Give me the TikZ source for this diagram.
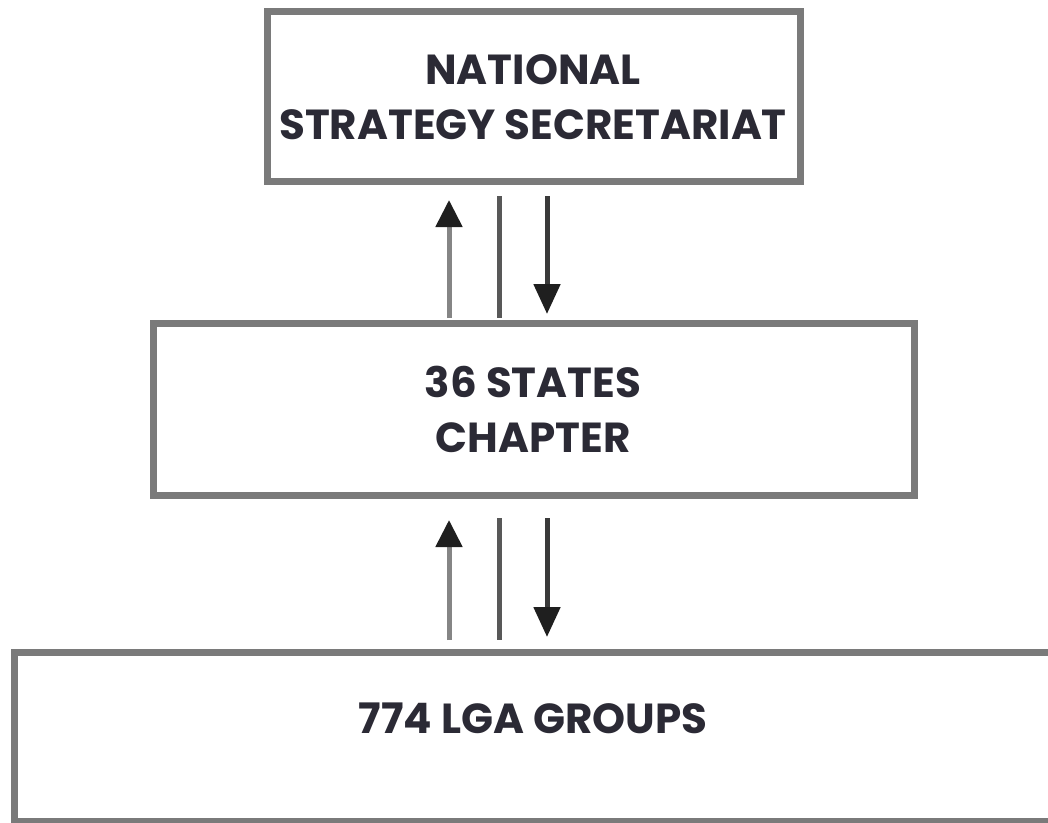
\documentclass[tikz,border=0pt]{standalone}
\usepackage{fontspec}
\setmainfont{Poppins}
\usetikzlibrary{arrows.meta}
\definecolor{boxline}{HTML}{7A7A7A}
\definecolor{inktext}{HTML}{2B2A35}
\definecolor{arrowgrey}{HTML}{858585}
\definecolor{arrowdark}{HTML}{3A3A3A}
\begin{document}
\begin{tikzpicture}[x=1pt,y=-1pt,
  levelbox/.style={draw=boxline,line width=7pt,fill=white},
  label/.style={font=\fontsize{42}{55}\selectfont\bfseries,text=inktext,align=center,inner sep=0pt},
  uparrow/.style={draw=arrowgrey,line width=5pt,-{Triangle[length=27pt,width=26pt,color=black!88]}},
  downarrow/.style={draw=arrowdark,line width=5pt,-{Triangle[length=30pt,width=26pt,color=black!88]}},
  plainline/.style={draw=arrowdark!85,line width=5pt}]
\useasboundingbox (0,0) rectangle (1048,822);
\clip (0,0) rectangle (1048,822);

% three levels of the structure
\draw[levelbox] (267,11) rectangle (800,181);
\draw[levelbox] (153,323) rectangle (914,495);
\draw[levelbox] (14,652) rectangle (1070,821);

\node[label] (nss) at (533,97) {NATIONAL\\STRATEGY SECRETARIAT};
\node[label] (states) at (533,409) {36 STATES\\CHAPTER};
\node[label,anchor=center] (lga) at (533,718) {774 LGA GROUPS};

% links between secretariat and states
\coordinate (u1a) at (449,318);
\coordinate (u1b) at (449,200);
\coordinate (m1a) at (499,196);
\coordinate (m1b) at (499,318);
\coordinate (d1a) at (547,196);
\coordinate (d1b) at (547,314);
\draw[uparrow] (u1a) -- (u1b);
\draw[plainline] (m1a) -- (m1b);
\draw[downarrow] (d1a) -- (d1b);

% links between states and LGA groups
\coordinate (u2a) at (449,640);
\coordinate (u2b) at (449,520);
\coordinate (m2a) at (499,518);
\coordinate (m2b) at (499,640);
\coordinate (d2a) at (547,518);
\coordinate (d2b) at (547,637);
\draw[uparrow] (u2a) -- (u2b);
\draw[plainline] (m2a) -- (m2b);
\draw[downarrow] (d2a) -- (d2b);
\end{tikzpicture}
\end{document}
